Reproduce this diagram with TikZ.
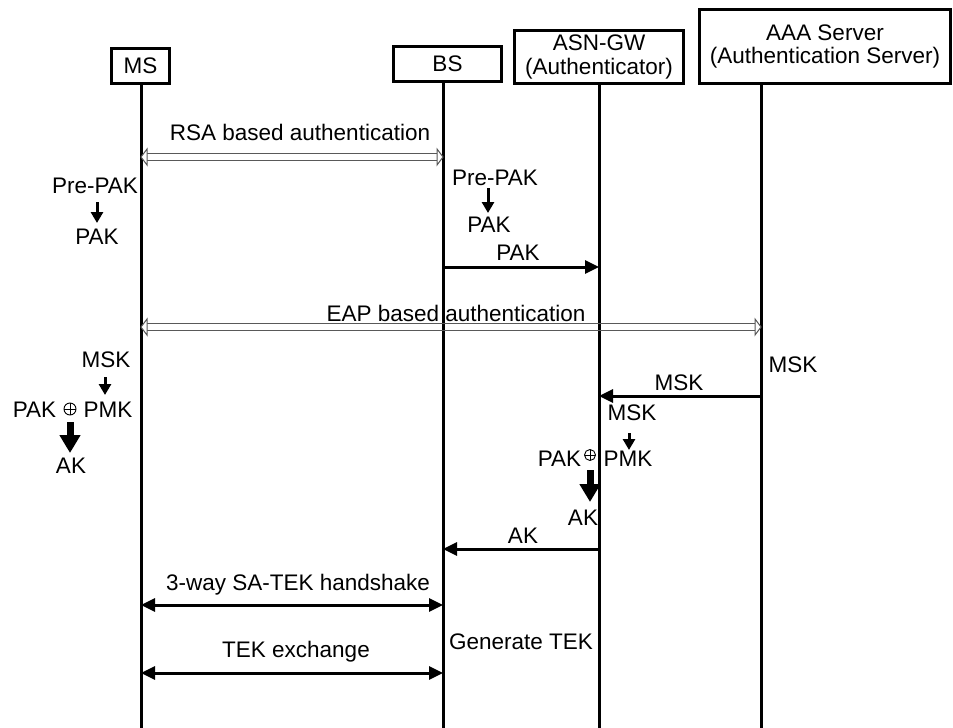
\documentclass[tikz,border=0pt]{standalone}
\usepackage{fontspec}
\setmainfont{Liberation Sans}
\usetikzlibrary{arrows.meta,calc}
\newcommand\dblarr[2]{%
  \draw[dbl] ($(#1)+(6,-3.25)$) -- ($(#2)+(-6,-3.25)$);
  \draw[dbl] ($(#1)+(6,3.25)$) -- ($(#2)+(-6,3.25)$);
  \draw[dbl, fill=white] ($(#1)+(6,-8)$) -- (#1) -- ($(#1)+(6,8)$) -- cycle;
  \draw[dbl, fill=white] ($(#2)+(-6,-8)$) -- (#2) -- ($(#2)+(-6,8)$) -- cycle;
}
\begin{document}
\begin{tikzpicture}[x=1pt,y=-1pt,
  every node/.style={font=\fontsize{22.5}{23.5}\selectfont, inner sep=0pt},
  lbl/.style={anchor=base},
  actor/.style={draw, line width=3pt, inner sep=0pt, align=center},
  life/.style={line width=3pt},
  msg/.style={line width=3pt, -{Triangle[length=14pt,width=13pt]}},
  bimsg/.style={line width=3pt, {Triangle[length=14pt,width=13pt]}-{Triangle[length=14pt,width=13pt]}},
  derive/.style={line width=3pt, -{Triangle[length=11pt,width=12pt]}},
  bigderive/.style={line width=7pt, -{Triangle[length=18pt,width=20pt]}},
  dbl/.style={line width=1pt, draw=black!65},
  oplus/.style={circle, draw, line width=0.9pt, minimum size=#1, inner sep=0pt,
    path picture={\draw[line width=0.8pt] (path picture bounding box.north) -- (path picture bounding box.south)
      (path picture bounding box.west) -- (path picture bounding box.east);}},
]
\useasboundingbox (0,0) rectangle (953,728);

% actors
\node[actor, minimum width=58pt, minimum height=35pt] (ms) at (140.5,66) {MS};
\node[actor, minimum width=108pt, minimum height=35pt] (bs) at (447.5,64) {BS};
\node[actor, minimum width=169pt, minimum height=53pt] (asn) at (599,57) {ASN-GW\\(Authenticator)};
\node[actor, minimum width=251pt, minimum height=74pt] (aaa) at (825,46.5) {AAA Server\\(Authentication Server)};

% lifelines
\coordinate (msT) at (141,85);   \coordinate (msB) at (141,730);
\coordinate (bsT) at (443,83);   \coordinate (bsB) at (443,730);
\coordinate (asnT) at (599,85);  \coordinate (asnB) at (599,730);
\coordinate (aaaT) at (761,85);  \coordinate (aaaB) at (761,730);
\draw[life] (msT) -- (msB);
\draw[life] (bsT) -- (bsB);
\draw[life] (asnT) -- (asnB);
\draw[life] (aaaT) -- (aaaB);

% RSA based authentication
\coordinate (rsaL) at (141,157); \coordinate (rsaR) at (443,157);
\dblarr{rsaL}{rsaR}
\node[lbl] (rsaT) at (300,140) {RSA based authentication};

% PAK derivation
\node[lbl] (prepakL) at (95,193) {Pre-PAK};
\coordinate (d1a) at (97,202); \coordinate (d1b) at (97,223);
\draw[derive] (d1a) -- (d1b);
\node[lbl] (pakL) at (97,244) {PAK};

\node[lbl] (prepakB) at (495,185) {Pre-PAK};
\coordinate (d2a) at (488,188); \coordinate (d2b) at (488,213);
\draw[derive] (d2a) -- (d2b);
\node[lbl] (pakB) at (489,232) {PAK};

% PAK message
\coordinate (pakS) at (443,267); \coordinate (pakE) at (599,267);
\draw[msg] (pakS) -- (pakE);
\node[lbl] (pakM) at (518,260) {PAK};

% EAP based authentication
\coordinate (eapL) at (141,327); \coordinate (eapR) at (761,327);
\dblarr{eapL}{eapR}
\node[lbl] (eapT) at (456,321) {EAP based authentication};

% MS side AK derivation
\node[lbl] (mskL) at (106,367) {MSK};
\coordinate (d3a) at (105,377); \coordinate (d3b) at (105,395);
\draw[derive] (d3a) -- (d3b);
\node[lbl] (pakL2) at (34.5,417) {PAK};
\node[oplus=12pt] (opL) at (70,409) {};
\node[lbl] (pmkL) at (108,417) {PMK};
\coordinate (d4a) at (70,422); \coordinate (d4b) at (70,453);
\draw[bigderive] (d4a) -- (d4b);
\node[lbl] (akL) at (71,473) {AK};

% AAA MSK
\node[lbl] (mskAAA) at (793,372) {MSK};
\coordinate (mskS) at (761,396); \coordinate (mskE) at (599,396);
\draw[msg] (mskS) -- (mskE);
\node[lbl] (mskM) at (679,390) {MSK};

% ASN side AK derivation
\node[lbl] (mskA) at (632,420) {MSK};
\coordinate (d5a) at (629,433); \coordinate (d5b) at (629,450);
\draw[derive] (d5a) -- (d5b);
\node[lbl] (pakA) at (559.5,466) {PAK};
\node[oplus=11pt] (opA) at (590,455) {};
\node[lbl] (pmkA) at (628,466) {PMK};
\coordinate (d6a) at (590,470); \coordinate (d6b) at (590,502);
\draw[bigderive] (d6a) -- (d6b);
\node[lbl] (akA) at (583,525) {AK};

% AK message
\coordinate (akS) at (599,549); \coordinate (akE) at (443,549);
\draw[msg] (akS) -- (akE);
\node[lbl] (akM) at (523,543) {AK};

% 3-way handshake
\coordinate (hsL) at (141,605); \coordinate (hsR) at (443,605);
\draw[bimsg] (hsL) -- (hsR);
\node[lbl] (hsT) at (298,590) {3-way SA-TEK handshake};

% TEK exchange
\coordinate (tekL) at (141,673); \coordinate (tekR) at (443,673);
\draw[bimsg] (tekL) -- (tekR);
\node[lbl] (tekT) at (296,657) {TEK exchange};
\node[lbl] (gen) at (521,649) {Generate TEK};
\end{tikzpicture}
\end{document}
